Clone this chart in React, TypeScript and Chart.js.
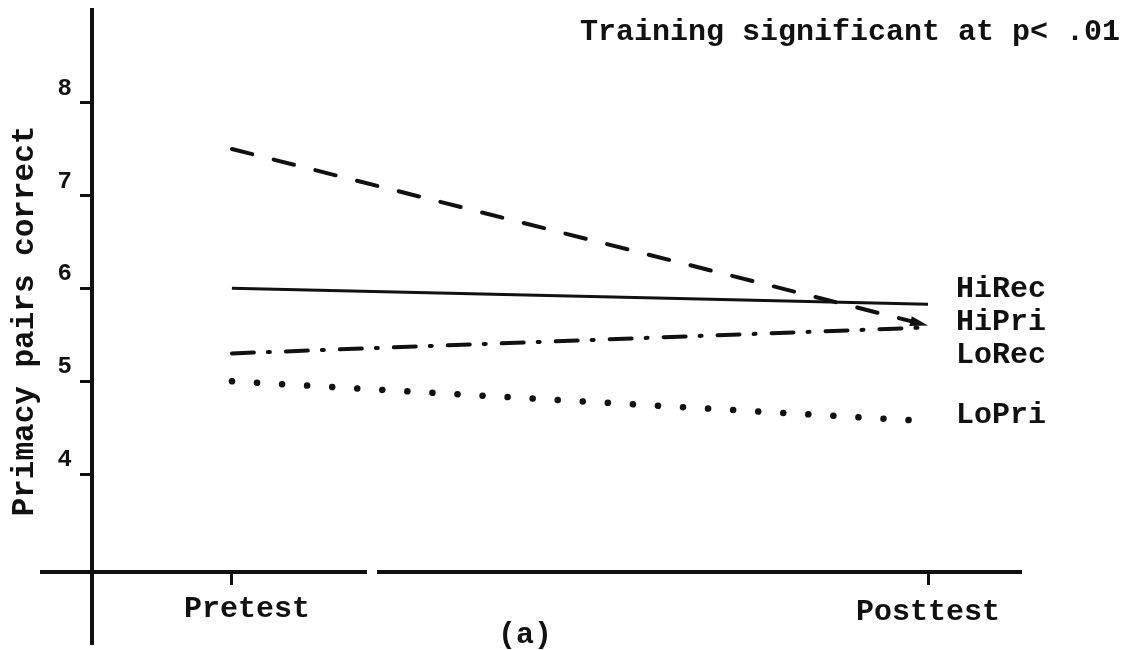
import React, { useEffect, useRef } from "react";
import { Chart, registerables } from "chart.js";

Chart.register(...registerables);

// ---- data ----
const phases = ["Pretest", "Posttest"];
const phaseX = [1, 2];
const hiRec = [6.0, 5.83];
const hiPri = [7.5, 5.6];
const loRec = [5.3, 5.58];
const loPri = [5.0, 4.57];
const seriesNames = ["HiRec", "HiPri", "LoRec", "LoPri"];
const yTickValues = [4, 5, 6, 7, 8];
const titleText = "Training significant at p< .01";
const yTitleText = "Primacy pairs correct";
const panelLabel = "(a)";

const FONT = "'Liberation Mono', 'DejaVu Sans Mono', monospace";
const INK = "#111";

const toPoints = (vals: number[]) => vals.map((v, i) => ({ x: phaseX[i], y: v }));

const decorPlugin = {
  id: "decor",
  afterDraw(chart: any) {
    const ctx = chart.ctx as CanvasRenderingContext2D;
    const xs = chart.scales.x;
    const ys = chart.scales.y;
    const ca = chart.chartArea;
    ctx.save();
    ctx.strokeStyle = INK;
    ctx.fillStyle = INK;
    ctx.lineCap = "butt";

    // axes lines (extend beyond plot like the hand-drawn original)
    ctx.lineWidth = 4;
    ctx.beginPath();
    ctx.moveTo(ca.left, 8);
    ctx.lineTo(ca.left, 645);
    ctx.stroke();
    ctx.beginPath();
    ctx.moveTo(40, ca.bottom);
    ctx.lineTo(367, ca.bottom);
    ctx.moveTo(377, ca.bottom);
    ctx.lineTo(ca.right, ca.bottom);
    ctx.stroke();

    // x category labels
    ctx.font = `bold 30px ${FONT}`;
    ctx.textBaseline = "middle";
    ctx.textAlign = "left";
    ctx.fillText(phases[0], xs.getPixelForValue(phaseX[0]) - 48, 609);
    ctx.textAlign = "center";
    ctx.fillText(phases[1], xs.getPixelForValue(phaseX[1]), 612);
    ctx.fillText(panelLabel, 525, 635);

    // title
    ctx.textAlign = "left";
    ctx.fillText(titleText, 580, 32);

    // series labels at right
    const labelAnchors = [5.99, 5.63, 5.28, 4.63];
    seriesNames.forEach((n, i) => {
      ctx.fillText(n, 956, ys.getPixelForValue(labelAnchors[i]));
    });

    // y axis title
    ctx.save();
    ctx.translate(25, 321);
    ctx.rotate(-Math.PI / 2);
    ctx.textAlign = "center";
    ctx.font = `bold 31px ${FONT}`;
    ctx.fillText(yTitleText, 0, 0);
    ctx.restore();

    // arrowhead at end of HiPri
    const meta = chart.getDatasetMeta(1);
    if (meta && meta.data.length >= 2) {
      const p0 = meta.data[0];
      const p1 = meta.data[meta.data.length - 1];
      const a = Math.atan2(p1.y - p0.y, p1.x - p0.x);
      const L = 18;
      const W = 5;
      ctx.beginPath();
      ctx.moveTo(p1.x, p1.y);
      ctx.lineTo(p1.x - L * Math.cos(a) + W * Math.sin(a), p1.y - L * Math.sin(a) - W * Math.cos(a));
      ctx.lineTo(p1.x - L * Math.cos(a) - W * Math.sin(a), p1.y - L * Math.sin(a) + W * Math.cos(a));
      ctx.closePath();
      ctx.fill();
    }
    ctx.restore();
  },
};

export default function App() {
  const ref = useRef<HTMLCanvasElement>(null);
  useEffect(() => {
    const chart = new Chart(ref.current as HTMLCanvasElement, {
      type: "line",
      data: {
        datasets: [
          {
            label: seriesNames[0],
            data: toPoints(hiRec),
            borderColor: INK,
            borderWidth: 3,
            borderCapStyle: "butt",
            pointRadius: 0,
          },
          {
            label: seriesNames[1],
            data: toPoints(hiPri),
            borderColor: INK,
            borderWidth: 4,
            borderDash: [21, 22],
            borderCapStyle: "round",
            pointRadius: 0,
          },
          {
            label: seriesNames[2],
            data: toPoints(loRec),
            borderColor: INK,
            borderWidth: 4,
            borderDash: [22, 14, 2, 16],
            borderCapStyle: "round",
            pointRadius: 0,
          },
          {
            label: seriesNames[3],
            data: toPoints(loPri),
            borderColor: INK,
            borderWidth: 6.5,
            borderDash: [0.1, 25],
            borderCapStyle: "round",
            pointRadius: 0,
          },
        ],
      },
      options: {
        responsive: false,
        animation: false,
        devicePixelRatio: 1,
        layout: { padding: { left: 0, top: 10, right: 113, bottom: 0 } },
        plugins: { legend: { display: false }, tooltip: { enabled: false } },
        elements: { line: { tension: 0 } },
        scales: {
          x: {
            type: "linear",
            min: 0.799,
            max: 2.135,
            afterBuildTicks: (s: any) => {
              s.ticks = phaseX.map((v) => ({ value: v }));
            },
            afterFit: (s: any) => {
              s.height = 78;
            },
            ticks: { callback: () => "", autoSkip: false },
            grid: {
              drawOnChartArea: false,
              drawTicks: true,
              tickLength: 13,
              tickWidth: 3,
              tickColor: INK,
            },
            border: { display: false },
          },
          y: {
            type: "linear",
            min: 2.947,
            max: 8.863,
            afterBuildTicks: (s: any) => {
              s.ticks = yTickValues.map((v) => ({ value: v }));
            },
            afterFit: (s: any) => {
              s.width = 92;
            },
            ticks: {
              color: INK,
              padding: 8,
              labelOffset: -14,
              font: { family: FONT, size: 24, weight: "bold" },
              callback: (v: any) => String(v),
            },
            grid: {
              drawOnChartArea: false,
              drawTicks: true,
              tickLength: 12,
              tickWidth: 3,
              tickColor: INK,
            },
            border: { display: false },
          },
        },
      },
      plugins: [decorPlugin],
    } as any);
    return () => chart.destroy();
  }, []);
  return (
    <div style={{ position: "fixed", left: 0, top: 0, width: 1135, height: 650, background: "#fff" }}>
      <canvas ref={ref} width={1135} height={650} style={{ display: "block" }} />
    </div>
  );
}
